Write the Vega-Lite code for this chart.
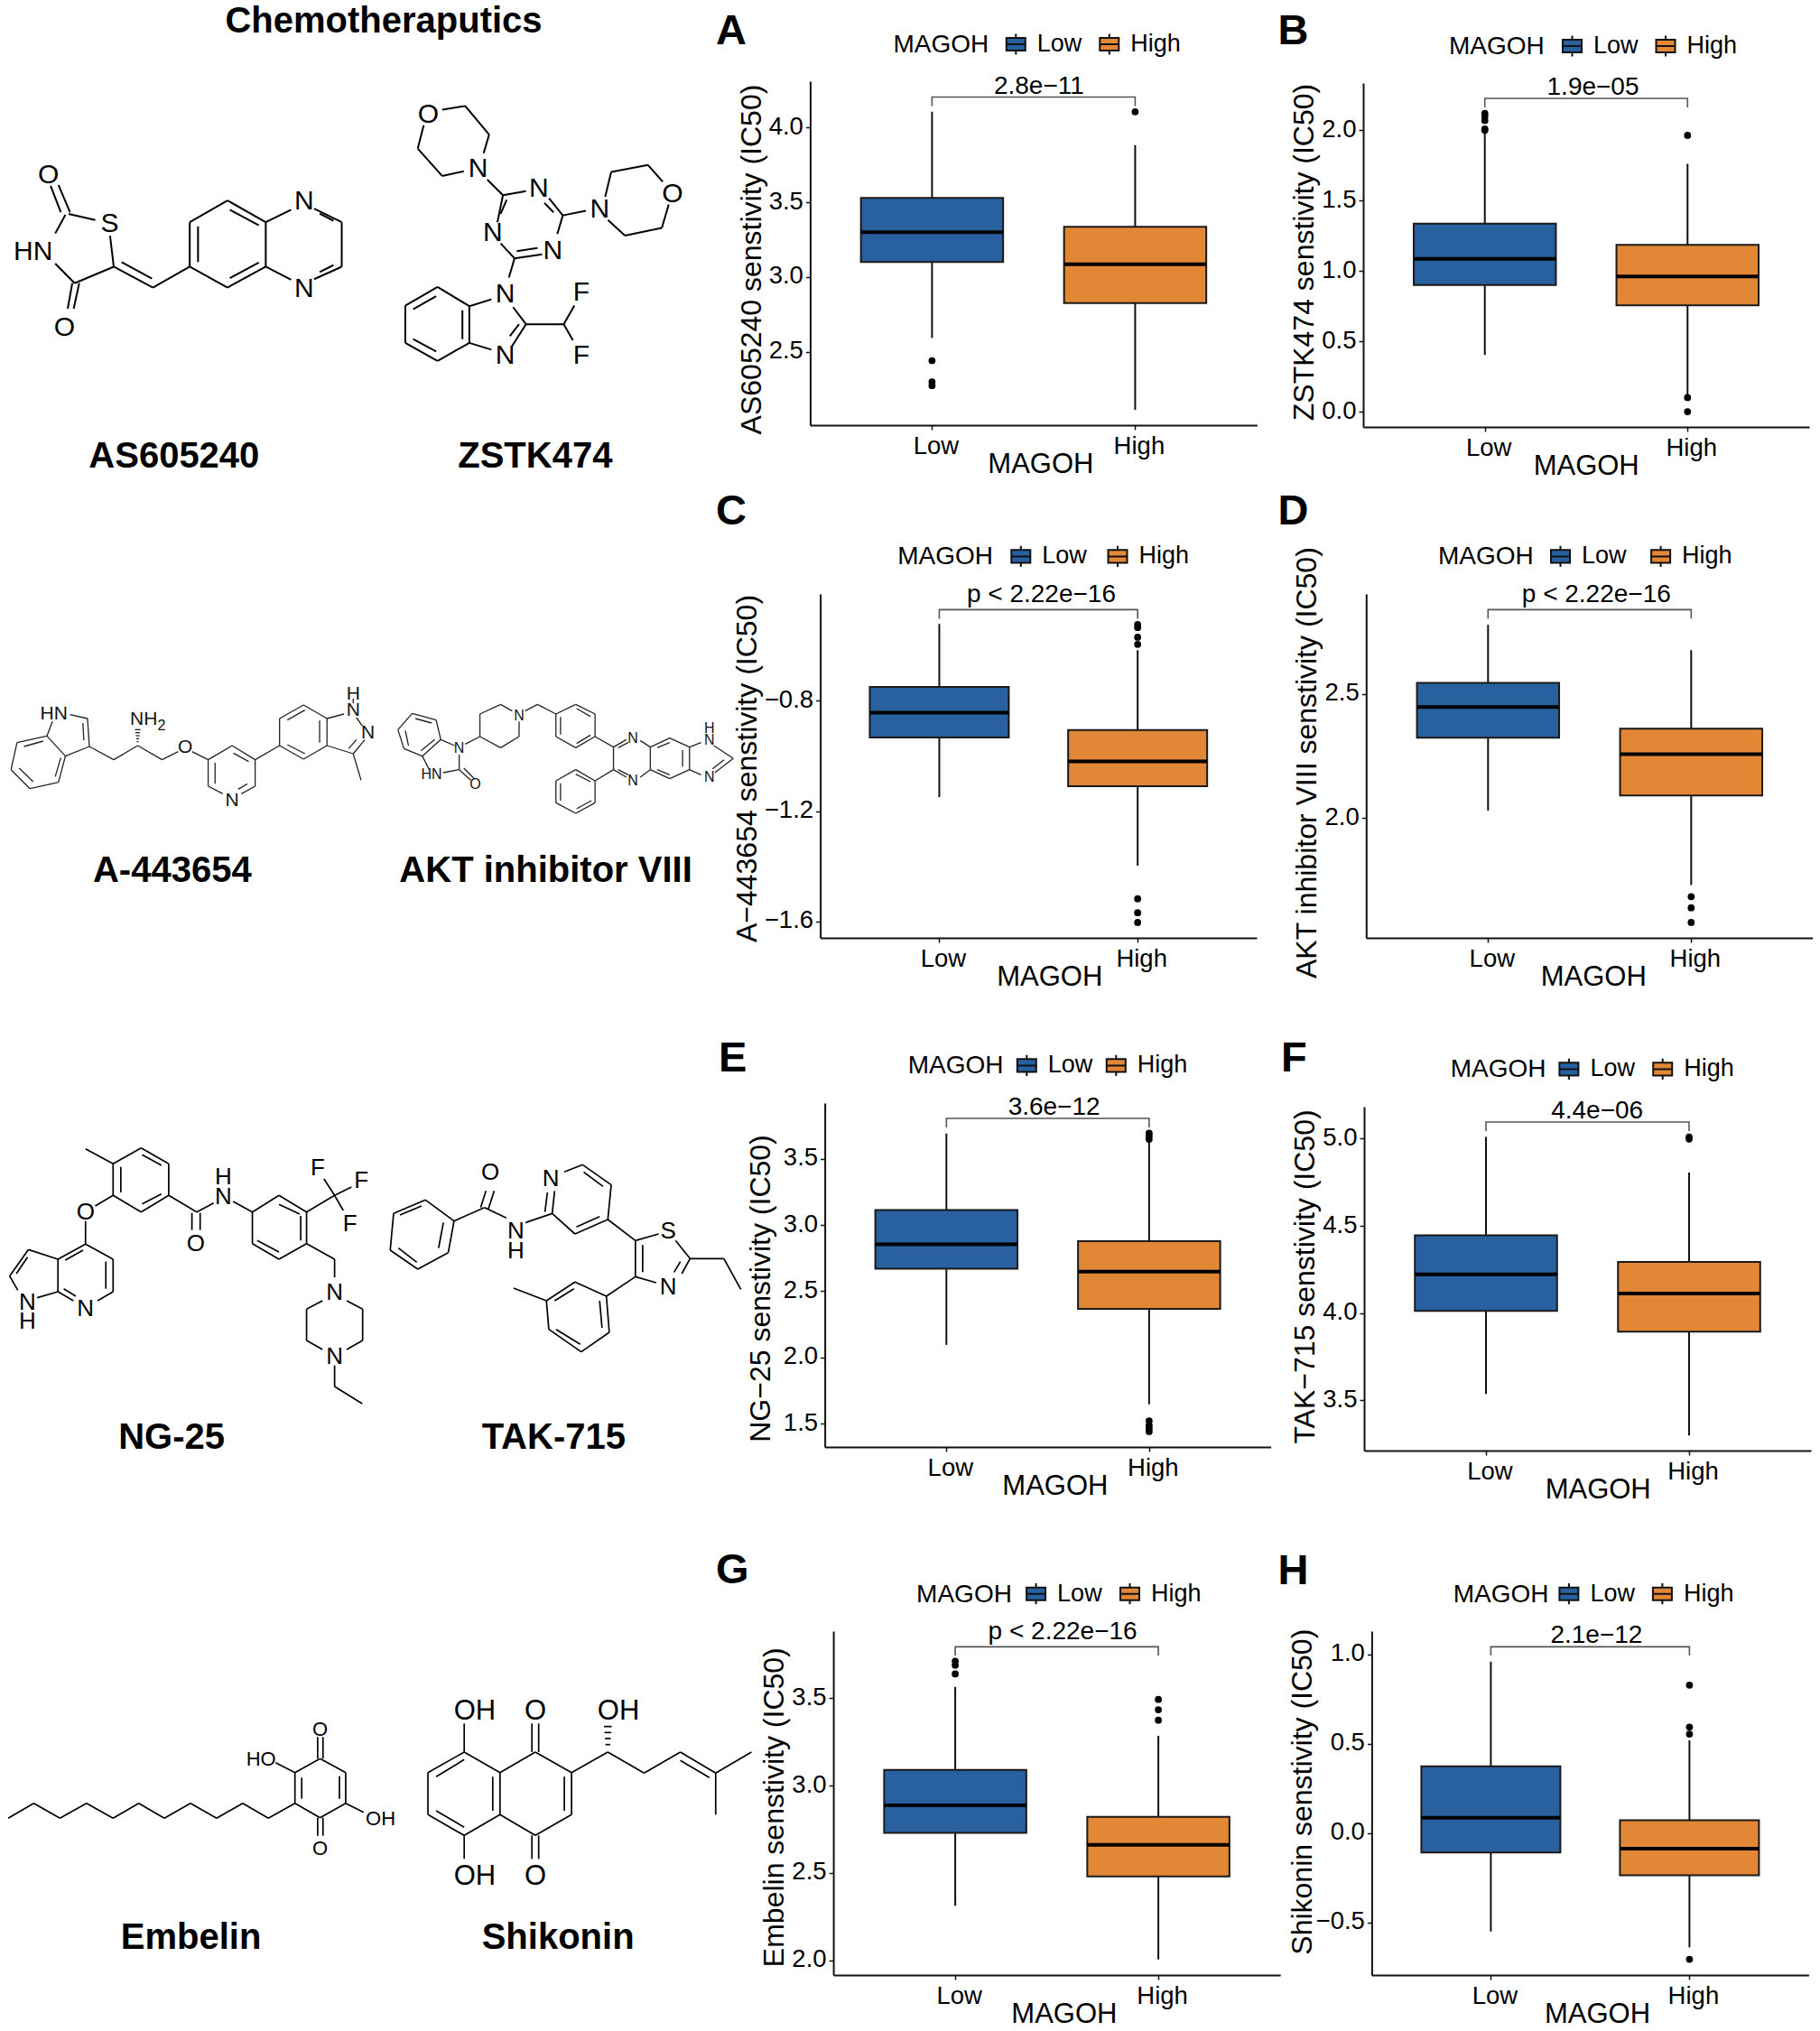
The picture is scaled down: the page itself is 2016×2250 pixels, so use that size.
{"$schema":"https://vega.github.io/schema/vega-lite/v6.json","padding":0,"background":"white","columns":3,"align":"each","bounds":"flush","spacing":0,"resolve":{"scale":{"fill":"independent"},"legend":{"fill":"independent"}},
"config":{"font":"Liberation Sans","view":{"stroke":null},
"axis":{"grid":false,"domainColor":"#111","domainWidth":2,"tickColor":"#111","tickWidth":1.5,"tickSize":5,"labelColor":"#000","labelFontSize":27.5,"labelPadding":4,"titleFontSize":32,"titleFontWeight":"normal","titleColor":"#000"},
"axisX":{"titleFontSize":31,"titleBaseline":"alphabetic","titleAlign":"center","titleY":52.5,"labelOffset":4,"labelAngle":0},
"axisY":{"titleBaseline":"alphabetic","titleAlign":"center","titleAngle":270,"labelOffset":-1,"labelPadding":3},
"legend":{"orient":"none","direction":"horizontal","titleOrient":"left","columns":2,"symbolType":"M-1,-0.67H1V0.67H-1ZM-1,0H1M0,-0.67V-1.1M0,0.67V1.1","symbolSize":441,"symbolStrokeColor":"#111","symbolStrokeWidth":2,"labelFontSize":27,"titleFontSize":28,"titleFontWeight":"normal","labelColor":"#000","titleColor":"#000","labelOffset":10}},
"concat":[
{"width":896,"height":89,"data":{"values":[{"a":1}]},"mark":{"type":"rule","opacity":0},"encoding":{}},
{"width":613,"height":89,"data":{"values":[{"a":1}]},"mark":{"type":"rule","opacity":0},"encoding":{}},
{"width":498,"height":89,"data":{"values":[{"a":1}]},"mark":{"type":"rule","opacity":0},"encoding":{}},

{"width":896,"height":383,"encoding":{"x":{"field":"x","type":"quantitative","axis":null,"scale":{"domain":[0,1756.2],"nice":false,"zero":false}},"y":{"field":"y","type":"quantitative","axis":null,"scale":{"domain":[258.4,1370.5],"reverse":true,"nice":false,"zero":false}}},
"layer":[
{"data":{"values":[{"x":130,"y":680,"x2":108,"y2":595},{"x":150,"y":680,"x2":125,"y2":592},{"x":147,"y":685,"x2":205,"y2":705},{"x":140,"y":688,"x2":118,"y2":748},{"x":237,"y":755,"x2":245,"y2":855},{"x":118,"y":845,"x2":160,"y2":908},{"x":160,"y":908,"x2":245,"y2":855},{"x":155,"y":908,"x2":145,"y2":990},{"x":170,"y":908,"x2":158,"y2":990},{"x":245,"y":855,"x2":330,"y2":922},{"x":262,"y":840,"x2":328,"y2":893},{"x":330,"y":922,"x2":410,"y2":855},{"x":410,"y":855,"x2":410,"y2":712},{"x":410,"y":712,"x2":492,"y2":642},{"x":492,"y":642,"x2":575,"y2":712},{"x":575,"y":712,"x2":575,"y2":855},{"x":575,"y":855,"x2":492,"y2":922},{"x":492,"y":922,"x2":410,"y2":855},{"x":428,"y":725,"x2":428,"y2":840},{"x":497,"y":672,"x2":560,"y2":722},{"x":497,"y":892,"x2":560,"y2":842},{"x":575,"y":712,"x2":630,"y2":672},{"x":575,"y":855,"x2":630,"y2":897},{"x":680,"y":668,"x2":740,"y2":712},{"x":740,"y":712,"x2":740,"y2":855},{"x":740,"y":855,"x2":680,"y2":895},{"x":692,"y":684,"x2":722,"y2":707},{"x":692,"y":872,"x2":722,"y2":850},
{"x":958,"y":350,"x2":1008,"y2":338},{"x":1008,"y":338,"x2":1060,"y2":430},{"x":1060,"y":430,"x2":1048,"y2":490},{"x":1005,"y":548,"x2":958,"y2":563},{"x":958,"y":563,"x2":905,"y2":475},{"x":905,"y":475,"x2":918,"y2":400},{"x":1056,"y":575,"x2":1090,"y2":625},{"x":1090,"y":625,"x2":1140,"y2":612},{"x":1190,"y":635,"x2":1220,"y2":690},{"x":1180,"y":650,"x2":1200,"y2":680},{"x":1220,"y":690,"x2":1208,"y2":750},{"x":1175,"y":815,"x2":1115,"y2":828},{"x":1165,"y":795,"x2":1120,"y2":805},{"x":1115,"y":828,"x2":1085,"y2":780},{"x":1078,"y":712,"x2":1090,"y2":625},{"x":1085,"y":685,"x2":1098,"y2":640},{"x":1220,"y":690,"x2":1270,"y2":675},{"x":1312,"y":630,"x2":1325,"y2":550},{"x":1325,"y":550,"x2":1405,"y2":528},{"x":1405,"y":528,"x2":1437,"y2":582},{"x":1450,"y":655,"x2":1435,"y2":730},{"x":1435,"y":730,"x2":1355,"y2":755},{"x":1355,"y":755,"x2":1318,"y2":705},{"x":1115,"y":828,"x2":1103,"y2":890},{"x":1065,"y":960,"x2":1017,"y2":982},{"x":1017,"y":982,"x2":1017,"y2":1100},{"x":1017,"y":1100,"x2":1065,"y2":1122},{"x":1110,"y":1110,"x2":1140,"y2":1040},{"x":1105,"y":1078,"x2":1125,"y2":1040},{"x":1112,"y":985,"x2":1140,"y2":1040},{"x":1140,"y":1040,"x2":1222,"y2":1040},{"x":1222,"y":1040,"x2":1245,"y2":980},{"x":1222,"y":1040,"x2":1242,"y2":1092},{"x":1017,"y":982,"x2":948,"y2":920},{"x":948,"y":920,"x2":878,"y2":980},{"x":878,"y":980,"x2":878,"y2":1100},{"x":878,"y":1100,"x2":948,"y2":1158},{"x":948,"y":1158,"x2":1017,"y2":1100},{"x":945,"y":950,"x2":895,"y2":992},{"x":895,"y":1088,"x2":945,"y2":1128},{"x":1002,"y":995,"x2":1002,"y2":1088}]},"mark":{"type":"rule","strokeWidth":2,"color":"#000"},"encoding":{"x2":{"field":"x2"},"y2":{"field":"y2"}}},
{"data":{"values":[{"x":103,"y":560,"t":"O"},{"x":236,"y":718,"t":"S"},{"x":70,"y":808,"t":"HN"},{"x":138,"y":1050,"t":"O"},{"x":658,"y":645,"t":"N"},{"x":658,"y":925,"t":"N"},{"x":928,"y":365,"t":"O"},{"x":1036,"y":540,"t":"N"},{"x":1168,"y":605,"t":"N"},{"x":1068,"y":745,"t":"N"},{"x":1198,"y":805,"t":"N"},{"x":1300,"y":670,"t":"N"},{"x":1458,"y":620,"t":"O"},{"x":1095,"y":945,"t":"N"},{"x":1095,"y":1140,"t":"N"},{"x":1260,"y":938,"t":"F"},{"x":1260,"y":1140,"t":"F"}]},"mark":{"type":"text","fontSize":30,"baseline":"middle","align":"center","color":"#000"},"encoding":{"text":{"field":"t"}}},
{"data":{"values":[{"x":831,"y":103,"t":"Chemotheraputics"},{"x":376,"y":1500,"t":"AS605240"},{"x":1160,"y":1500,"t":"ZSTK474"}]},"mark":{"type":"text","fontSize":40,"fontWeight":"bold","baseline":"alphabetic","align":"center","color":"#000"},"encoding":{"text":{"field":"t"}}},
{"data":{"values":[{"x":1552.3,"y":137.9,"t":"A"},{"x":2772.6,"y":138.5,"t":"B"}]},"mark":{"type":"text","fontSize":47,"fontWeight":"bold","baseline":"alphabetic","align":"left","color":"#000"},"encoding":{"text":{"field":"t"}}}
]},

{"width":613,"height":383,"encoding":{"x":{"field":"MAGOH","type":"nominal","scale":{"type":"point","padding":0.6,"domain":["Low","High"],"range":[0.4,495.4]},"axis":{"title":"MAGOH","titleX":255.4,"offset":-2}},"y":{"field":"v","type":"quantitative","scale":{"domain":[2.008,4.31],"nice":false,"zero":false,"range":[381,0]},"axis":{"title":"AS605240 senstivity (IC50)","values":[2.5,3,3.5,4],"format":".1f","titleX":-55,"titleY":197,"offset":-0.4}}},
"layer":[
{"data":{"values":[{"MAGOH":"Low","v":2.592,"v2":4.106},{"MAGOH":"High","v":2.11,"v2":3.883}]},"mark":{"type":"rule","strokeWidth":2,"color":"#111"},"encoding":{"y2":{"field":"v2"}}},
{"data":{"values":[{"MAGOH":"Low","v":3.1,"v2":3.529},{"MAGOH":"High","v":2.825,"v2":3.335}]},"mark":{"type":"bar","size":157.5,"stroke":"#1a1a1a","strokeWidth":2},"encoding":{"y2":{"field":"v2"},"fill":{"field":"MAGOH","type":"nominal","scale":{"domain":["Low","High"],"range":["#2860A0","#E28735"]},"legend":{"title":"MAGOH","legendX":92.4,"legendY":-55,"titlePadding":16.4,"columnPadding":15.5}}}},
{"data":{"values":[{"MAGOH":"Low","v":3.3},{"MAGOH":"High","v":3.085}]},"mark":{"type":"tick","size":157.5,"thickness":4,"color":"#000","opacity":1}},
{"data":{"values":[{"MAGOH":"Low","v":2.44},{"MAGOH":"Low","v":2.298},{"MAGOH":"Low","v":2.273},{"MAGOH":"High","v":4.106}]},"mark":{"type":"point","filled":true,"size":60,"color":"#000","opacity":1}},
{"data":{"values":[{"MAGOH":"Low","v":4.144,"i":1},{"MAGOH":"Low","v":4.204,"i":2},{"MAGOH":"High","v":4.204,"i":3},{"MAGOH":"High","v":4.144,"i":4}]},"mark":{"type":"line","strokeWidth":1.6,"color":"#555"},"encoding":{"order":{"field":"i"}}},
{"data":{"values":[{"MAGOH":"Low","v":4.204,"t":"2.8e−11"}]},"mark":{"type":"text","fontSize":28,"baseline":"alphabetic","align":"center","color":"#000","dx":118.5,"dy":-4},"encoding":{"text":{"field":"t"}}}
]},

{"width":498,"height":383,"encoding":{"x":{"field":"MAGOH","type":"nominal","scale":{"type":"point","padding":0.6,"domain":["Low","High"],"range":[0,494]},"axis":{"title":"MAGOH","titleX":246.7}},"y":{"field":"v","type":"quantitative","scale":{"domain":[-0.109,2.336],"nice":false,"zero":false,"range":[383,2]},"axis":{"title":"ZSTK474 senstivity (IC50)","values":[0,0.5,1,1.5,2],"format":".1f","titleX":-56,"titleY":189}}},
"layer":[
{"data":{"values":[{"MAGOH":"Low","v":0.403,"v2":1.98},{"MAGOH":"High","v":0.12,"v2":1.762}]},"mark":{"type":"rule","strokeWidth":2,"color":"#111"},"encoding":{"y2":{"field":"v2"}}},
{"data":{"values":[{"MAGOH":"Low","v":0.9,"v2":1.336},{"MAGOH":"High","v":0.756,"v2":1.186}]},"mark":{"type":"bar","size":157.5,"stroke":"#1a1a1a","strokeWidth":2},"encoding":{"y2":{"field":"v2"},"fill":{"field":"MAGOH","type":"nominal","scale":{"domain":["Low","High"],"range":["#2860A0","#E28735"]},"legend":{"title":"MAGOH","legendX":95,"legendY":-53,"titlePadding":17,"columnPadding":15.5}}}},
{"data":{"values":[{"MAGOH":"Low","v":1.086},{"MAGOH":"High","v":0.961}]},"mark":{"type":"tick","size":157.5,"thickness":4,"color":"#000","opacity":1}},
{"data":{"values":[{"MAGOH":"Low","v":2.0},{"MAGOH":"Low","v":2.01},{"MAGOH":"Low","v":2.07},{"MAGOH":"Low","v":2.1},{"MAGOH":"Low","v":2.12},{"MAGOH":"High","v":1.964},{"MAGOH":"High","v":0.1},{"MAGOH":"High","v":0.0}]},"mark":{"type":"point","filled":true,"size":60,"color":"#000","opacity":1}},
{"data":{"values":[{"MAGOH":"Low","v":2.163,"i":1},{"MAGOH":"Low","v":2.227,"i":2},{"MAGOH":"High","v":2.227,"i":3},{"MAGOH":"High","v":2.163,"i":4}]},"mark":{"type":"line","strokeWidth":1.6,"color":"#555"},"encoding":{"order":{"field":"i"}}},
{"data":{"values":[{"MAGOH":"Low","v":2.227,"t":"1.9e−05"}]},"mark":{"type":"text","fontSize":28,"baseline":"alphabetic","align":"center","color":"#000","dx":119.8,"dy":-4},"encoding":{"text":{"field":"t"}}}
]},

{"width":896,"height":185,"data":{"values":[{"a":1}]},"mark":{"type":"rule","opacity":0},"encoding":{}},
{"width":613,"height":185,"data":{"values":[{"a":1}]},"mark":{"type":"rule","opacity":0},"encoding":{}},
{"width":498,"height":185,"data":{"values":[{"a":1}]},"mark":{"type":"rule","opacity":0},"encoding":{}},

{"width":896,"height":381,"encoding":{"x":{"field":"x","type":"quantitative","axis":null,"scale":{"domain":[0,1756.2],"nice":false,"zero":false}},"y":{"field":"y","type":"quantitative","axis":null,"scale":{"domain":[-189,954],"reverse":true,"nice":false,"zero":false}}},
"layer":[
{"data":{"values":[{"x":100,"y":283,"x2":35,"y2":305},{"x":35,"y":305,"x2":22,"y2":395},{"x":22,"y":395,"x2":63,"y2":458},{"x":63,"y":458,"x2":125,"y2":437},{"x":125,"y":437,"x2":140,"y2":350},{"x":140,"y":350,"x2":100,"y2":283},{"x":50,"y":318,"x2":92,"y2":300},{"x":40,"y":390,"x2":70,"y2":435},{"x":118,"y":418,"x2":130,"y2":355},{"x":100,"y":283,"x2":112,"y2":235},{"x":150,"y":212,"x2":188,"y2":225},{"x":188,"y":225,"x2":192,"y2":318},{"x":178,"y":240,"x2":180,"y2":298},{"x":192,"y":318,"x2":140,"y2":350},{"x":192,"y":318,"x2":245,"y2":362},{"x":245,"y":362,"x2":297,"y2":315},{"x":297,"y":315,"x2":350,"y2":362},{"x":350,"y":362,"x2":385,"y2":335},{"x":415,"y":335,"x2":450,"y2":362},{"x":291,"y":262,"x2":303,"y2":262},{"x":292,"y":272,"x2":302,"y2":272},{"x":293,"y":282,"x2":301,"y2":282},{"x":294,"y":292,"x2":300,"y2":292},{"x":295,"y":302,"x2":299,"y2":302},{"x":450,"y":362,"x2":502,"y2":315},{"x":502,"y":315,"x2":552,"y2":362},{"x":552,"y":362,"x2":552,"y2":450},{"x":552,"y":450,"x2":522,"y2":475},{"x":482,"y":475,"x2":450,"y2":450},{"x":450,"y":450,"x2":450,"y2":362},{"x":505,"y":340,"x2":538,"y2":368},{"x":465,"y":372,"x2":465,"y2":442},{"x":535,"y":442,"x2":515,"y2":460},{"x":552,"y":362,"x2":605,"y2":315},{"x":605,"y":315,"x2":605,"y2":225},{"x":605,"y":225,"x2":657,"y2":180},{"x":657,"y":180,"x2":708,"y2":225},{"x":708,"y":225,"x2":708,"y2":315},{"x":708,"y":315,"x2":657,"y2":360},{"x":657,"y":360,"x2":605,"y2":315},{"x":622,"y":230,"x2":660,"y2":197},{"x":622,"y":312,"x2":660,"y2":342},{"x":692,"y":232,"x2":692,"y2":305},{"x":708,"y":225,"x2":745,"y2":210},{"x":765,"y":158,"x2":765,"y2":175},{"x":772,"y":222,"x2":785,"y2":250},{"x":790,"y":296,"x2":765,"y2":342},{"x":772,"y":295,"x2":755,"y2":325},{"x":765,"y":342,"x2":708,"y2":315},{"x":765,"y":342,"x2":782,"y2":430},
{"x":893,"y":208,"x2":945,"y2":230},{"x":945,"y":230,"x2":955,"y2":295},{"x":955,"y":295,"x2":915,"y2":350},{"x":915,"y":350,"x2":875,"y2":325},{"x":875,"y":325,"x2":862,"y2":262},{"x":862,"y":262,"x2":893,"y2":208},{"x":900,"y":225,"x2":935,"y2":240},{"x":942,"y":295,"x2":912,"y2":332},{"x":878,"y":265,"x2":885,"y2":315},{"x":955,"y":295,"x2":985,"y2":315},{"x":995,"y":345,"x2":995,"y2":395},{"x":960,"y":405,"x2":995,"y2":395},{"x":930,"y":395,"x2":915,"y2":350},{"x":995,"y":395,"x2":1020,"y2":430},{"x":1005,"y":390,"x2":1028,"y2":425},{"x":1008,"y":310,"x2":1040,"y2":285},{"x":1040,"y":285,"x2":1040,"y2":210},{"x":1040,"y":210,"x2":1085,"y2":178},{"x":1085,"y":178,"x2":1110,"y2":200},{"x":1125,"y":235,"x2":1125,"y2":285},{"x":1125,"y":285,"x2":1085,"y2":322},{"x":1085,"y":322,"x2":1040,"y2":285},{"x":1138,"y":200,"x2":1165,"y2":178},{"x":1165,"y":178,"x2":1205,"y2":210},{"x":1205,"y":210,"x2":1248,"y2":178},{"x":1248,"y":178,"x2":1290,"y2":210},{"x":1290,"y":210,"x2":1290,"y2":285},{"x":1290,"y":285,"x2":1248,"y2":322},{"x":1248,"y":322,"x2":1205,"y2":285},{"x":1205,"y":285,"x2":1205,"y2":210},{"x":1250,"y":192,"x2":1280,"y2":218},{"x":1215,"y":220,"x2":1215,"y2":278},{"x":1250,"y":308,"x2":1280,"y2":280},{"x":1290,"y":285,"x2":1330,"y2":320},{"x":1330,"y":320,"x2":1358,"y2":295},{"x":1388,"y":298,"x2":1410,"y2":320},{"x":1410,"y":320,"x2":1410,"y2":395},{"x":1410,"y":395,"x2":1388,"y2":420},{"x":1358,"y":420,"x2":1330,"y2":395},{"x":1330,"y":395,"x2":1330,"y2":320},{"x":1340,"y":322,"x2":1362,"y2":305},{"x":1340,"y":395,"x2":1362,"y2":412},{"x":1410,"y":320,"x2":1452,"y2":290},{"x":1452,"y":290,"x2":1495,"y2":320},{"x":1495,"y":320,"x2":1495,"y2":395},{"x":1495,"y":395,"x2":1452,"y2":425},{"x":1452,"y":425,"x2":1410,"y2":395},{"x":1425,"y":322,"x2":1452,"y2":305},{"x":1480,"y":330,"x2":1480,"y2":385},{"x":1425,"y":395,"x2":1452,"y2":412},{"x":1495,"y":320,"x2":1520,"y2":305},{"x":1548,"y":315,"x2":1590,"y2":358},{"x":1590,"y":358,"x2":1550,"y2":405},{"x":1570,"y":362,"x2":1545,"y2":392},{"x":1520,"y":412,"x2":1495,"y2":395},{"x":1330,"y":395,"x2":1290,"y2":432},{"x":1290,"y":432,"x2":1248,"y2":395},{"x":1248,"y":395,"x2":1205,"y2":432},{"x":1205,"y":432,"x2":1205,"y2":505},{"x":1205,"y":505,"x2":1248,"y2":540},{"x":1248,"y":540,"x2":1290,"y2":505},{"x":1290,"y":505,"x2":1290,"y2":432},{"x":1215,"y":440,"x2":1215,"y2":498},{"x":1248,"y":410,"x2":1280,"y2":435},{"x":1250,"y":525,"x2":1282,"y2":498}]},"mark":{"type":"rule","strokeWidth":1.3,"color":"#222"},"encoding":{"x2":{"field":"x2"},"y2":{"field":"y2"}}},
{"data":{"values":[{"x":115,"y":210,"t":"HN"},{"x":310,"y":228,"t":"NH"},{"x":400,"y":320,"t":"O"},{"x":502,"y":498,"t":"N"},{"x":765,"y":143,"t":"H"},{"x":765,"y":198,"t":"N"},{"x":797,"y":272,"t":"N"}]},"mark":{"type":"text","fontSize":21,"baseline":"middle","align":"center","color":"#111"},"encoding":{"text":{"field":"t"}}},
{"data":{"values":[{"x":349,"y":248,"t":"2"},{"x":935,"y":412,"t":"HN"},{"x":1030,"y":445,"t":"O"},{"x":995,"y":325,"t":"N"},{"x":1125,"y":215,"t":"N"},{"x":1372,"y":290,"t":"N"},{"x":1372,"y":432,"t":"N"},{"x":1538,"y":298,"t":"N"},{"x":1538,"y":258,"t":"H"},{"x":1538,"y":420,"t":"N"}]},"mark":{"type":"text","fontSize":16,"baseline":"middle","align":"center","color":"#111"},"encoding":{"text":{"field":"t"}}},
{"data":{"values":[{"x":372,"y":768,"t":"A-443654"},{"x":1183,"y":768,"t":"AKT inhibitor VIII"}]},"mark":{"type":"text","fontSize":40,"fontWeight":"bold","baseline":"alphabetic","align":"center","color":"#000"},"encoding":{"text":{"field":"t"}}},
{"data":{"values":[{"x":1552.3,"y":-420,"t":"C"},{"x":2772.6,"y":-420,"t":"D"}]},"mark":{"type":"text","fontSize":47,"fontWeight":"bold","baseline":"alphabetic","align":"left","color":"#000"},"encoding":{"text":{"field":"t"}}}
]},

{"width":613,"height":381,"encoding":{"x":{"field":"MAGOH","type":"nominal","scale":{"type":"point","padding":0.6,"domain":["Low","High"],"range":[11.6,495]},"axis":{"title":"MAGOH","titleX":265.3}},"y":{"field":"v","type":"quantitative","scale":{"domain":[-1.66,-0.412],"nice":false,"zero":false,"range":[381,0]},"axis":{"title":"A−443654 senstivity (IC50)","values":[-1.6,-1.2,-0.8],"format":".1f","titleX":-71.2,"titleY":193,"offset":-11.6}}},
"layer":[
{"data":{"values":[{"MAGOH":"Low","v":-1.149,"v2":-0.521},{"MAGOH":"High","v":-1.398,"v2":-0.616}]},"mark":{"type":"rule","strokeWidth":2,"color":"#111"},"encoding":{"y2":{"field":"v2"}}},
{"data":{"values":[{"MAGOH":"Low","v":-0.933,"v2":-0.749},{"MAGOH":"High","v":-1.11,"v2":-0.906}]},"mark":{"type":"bar","size":154,"stroke":"#1a1a1a","strokeWidth":2},"encoding":{"y2":{"field":"v2"},"fill":{"field":"MAGOH","type":"nominal","scale":{"domain":["Low","High"],"range":["#2860A0","#E28735"]},"legend":{"title":"MAGOH","legendX":97.3,"legendY":-55.6,"titlePadding":17,"columnPadding":19.2}}}},
{"data":{"values":[{"MAGOH":"Low","v":-0.843},{"MAGOH":"High","v":-1.02}]},"mark":{"type":"tick","size":154,"thickness":4,"color":"#000","opacity":1}},
{"data":{"values":[{"MAGOH":"High","v":-0.523},{"MAGOH":"High","v":-0.534},{"MAGOH":"High","v":-0.569},{"MAGOH":"High","v":-0.595},{"MAGOH":"High","v":-1.518},{"MAGOH":"High","v":-1.569},{"MAGOH":"High","v":-1.604}]},"mark":{"type":"point","filled":true,"size":60,"color":"#000","opacity":1}},
{"data":{"values":[{"MAGOH":"Low","v":-0.502,"i":1},{"MAGOH":"Low","v":-0.469,"i":2},{"MAGOH":"High","v":-0.469,"i":3},{"MAGOH":"High","v":-0.502,"i":4}]},"mark":{"type":"line","strokeWidth":1.6,"color":"#555"},"encoding":{"order":{"field":"i"}}},
{"data":{"values":[{"MAGOH":"Low","v":-0.469,"t":"p < 2.22e−16"}]},"mark":{"type":"text","fontSize":28,"baseline":"alphabetic","align":"center","color":"#000","dx":113,"dy":-8},"encoding":{"text":{"field":"t"}}}
]},

{"width":498,"height":381,"encoding":{"x":{"field":"MAGOH","type":"nominal","scale":{"type":"point","padding":0.6,"domain":["Low","High"],"range":[3.3,498.3]},"axis":{"title":"MAGOH","titleX":254.8}},"y":{"field":"v","type":"quantitative","scale":{"domain":[1.519,2.902],"nice":false,"zero":false,"range":[381,0]},"axis":{"title":"AKT inhibitor VIII senstivity (IC50)","values":[2,2.5],"format":".1f","titleX":-55.5,"titleY":186.6,"offset":-3.3}}},
"layer":[
{"data":{"values":[{"MAGOH":"Low","v":2.031,"v2":2.778},{"MAGOH":"High","v":1.731,"v2":2.676}]},"mark":{"type":"rule","strokeWidth":2,"color":"#111"},"encoding":{"y2":{"field":"v2"}}},
{"data":{"values":[{"MAGOH":"Low","v":2.324,"v2":2.544},{"MAGOH":"High","v":2.092,"v2":2.36}]},"mark":{"type":"bar","size":157.5,"stroke":"#1a1a1a","strokeWidth":2},"encoding":{"y2":{"field":"v2"},"fill":{"field":"MAGOH","type":"nominal","scale":{"domain":["Low","High"],"range":["#2860A0","#E28735"]},"legend":{"title":"MAGOH","legendX":83,"legendY":-55.6,"titlePadding":16,"columnPadding":23.1}}}},
{"data":{"values":[{"MAGOH":"Low","v":2.447},{"MAGOH":"High","v":2.258}]},"mark":{"type":"tick","size":157.5,"thickness":4,"color":"#000","opacity":1}},
{"data":{"values":[{"MAGOH":"High","v":1.685},{"MAGOH":"High","v":1.64},{"MAGOH":"High","v":1.581}]},"mark":{"type":"point","filled":true,"size":60,"color":"#000","opacity":1}},
{"data":{"values":[{"MAGOH":"Low","v":2.803,"i":1},{"MAGOH":"Low","v":2.839,"i":2},{"MAGOH":"High","v":2.839,"i":3},{"MAGOH":"High","v":2.803,"i":4}]},"mark":{"type":"line","strokeWidth":1.6,"color":"#555"},"encoding":{"order":{"field":"i"}}},
{"data":{"values":[{"MAGOH":"Low","v":2.839,"t":"p < 2.22e−16"}]},"mark":{"type":"text","fontSize":28,"baseline":"alphabetic","align":"center","color":"#000","dx":120,"dy":-8},"encoding":{"text":{"field":"t"}}}
]},

{"width":896,"height":183,"data":{"values":[{"a":1}]},"mark":{"type":"rule","opacity":0},"encoding":{}},
{"width":613,"height":183,"data":{"values":[{"a":1}]},"mark":{"type":"rule","opacity":0},"encoding":{}},
{"width":498,"height":183,"data":{"values":[{"a":1}]},"mark":{"type":"rule","opacity":0},"encoding":{}},

{"width":896,"height":385,"encoding":{"x":{"field":"x","type":"quantitative","axis":null,"scale":{"domain":[0,1672.6],"nice":false,"zero":false}},"y":{"field":"y","type":"quantitative","axis":null,"scale":{"domain":[-57,1098],"reverse":true,"nice":false,"zero":false}}},
"layer":[
{"data":{"values":[{"x":175,"y":95,"x2":232,"y2":145},{"x":232,"y":145,"x2":290,"y2":92},{"x":290,"y":92,"x2":347,"y2":145},{"x":347,"y":145,"x2":347,"y2":250},{"x":347,"y":250,"x2":290,"y2":305},{"x":290,"y":305,"x2":232,"y2":250},{"x":232,"y":250,"x2":232,"y2":145},{"x":292,"y":115,"x2":332,"y2":150},{"x":248,"y":155,"x2":248,"y2":240},{"x":292,"y":278,"x2":332,"y2":245},{"x":232,"y":250,"x2":195,"y2":285},{"x":175,"y":335,"x2":175,"y2":412},{"x":175,"y":412,"x2":232,"y2":462},{"x":232,"y":462,"x2":232,"y2":570},{"x":232,"y":570,"x2":200,"y2":600},{"x":150,"y":600,"x2":118,"y2":570},{"x":118,"y":570,"x2":118,"y2":462},{"x":118,"y":462,"x2":175,"y2":412},{"x":217,"y":470,"x2":217,"y2":560},{"x":133,"y":465,"x2":170,"y2":432},{"x":130,"y":560,"x2":155,"y2":585},{"x":118,"y":462,"x2":57,"y2":430},{"x":57,"y":430,"x2":18,"y2":518},{"x":18,"y":518,"x2":35,"y2":565},{"x":75,"y":590,"x2":118,"y2":570},{"x":55,"y":455,"x2":32,"y2":510},{"x":347,"y":250,"x2":405,"y2":305},{"x":405,"y":305,"x2":440,"y2":275},{"x":395,"y":308,"x2":395,"y2":365},{"x":412,"y":308,"x2":412,"y2":365},{"x":480,"y":270,"x2":520,"y2":305},{"x":520,"y":305,"x2":575,"y2":250},{"x":575,"y":250,"x2":632,"y2":305},{"x":632,"y":305,"x2":632,"y2":410},{"x":632,"y":410,"x2":575,"y2":462},{"x":575,"y":462,"x2":520,"y2":410},{"x":520,"y":410,"x2":520,"y2":305},{"x":575,"y":280,"x2":618,"y2":312},{"x":620,"y":318,"x2":620,"y2":400},{"x":530,"y":400,"x2":575,"y2":438},{"x":632,"y":305,"x2":690,"y2":250},{"x":690,"y":250,"x2":668,"y2":195},{"x":690,"y":250,"x2":725,"y2":222},{"x":690,"y":250,"x2":708,"y2":300},{"x":632,"y":410,"x2":690,"y2":462},{"x":690,"y":462,"x2":690,"y2":522},{"x":665,"y":600,"x2":632,"y2":628},{"x":632,"y":628,"x2":632,"y2":732},{"x":632,"y":732,"x2":665,"y2":762},{"x":715,"y":762,"x2":748,"y2":732},{"x":748,"y":732,"x2":748,"y2":628},{"x":748,"y":628,"x2":715,"y2":600},{"x":690,"y":815,"x2":690,"y2":885},{"x":690,"y":885,"x2":747,"y2":942},
{"x":878,"y":265,"x2":937,"y2":335},{"x":937,"y":335,"x2":925,"y2":440},{"x":925,"y":440,"x2":862,"y2":495},{"x":862,"y":495,"x2":805,"y2":432},{"x":805,"y":432,"x2":812,"y2":310},{"x":812,"y":310,"x2":878,"y2":265},{"x":870,"y":285,"x2":825,"y2":315},{"x":915,"y":340,"x2":905,"y2":425},{"x":822,"y":425,"x2":860,"y2":472},{"x":937,"y":335,"x2":1000,"y2":290},{"x":992,"y":290,"x2":1003,"y2":235},{"x":1008,"y":295,"x2":1020,"y2":235},{"x":1000,"y":290,"x2":1045,"y2":325},{"x":1085,"y":340,"x2":1140,"y2":310},{"x":1140,"y":310,"x2":1145,"y2":235},{"x":1125,"y":305,"x2":1130,"y2":240},{"x":1165,"y":172,"x2":1203,"y2":148},{"x":1203,"y":148,"x2":1262,"y2":215},{"x":1205,"y":172,"x2":1245,"y2":220},{"x":1262,"y":215,"x2":1255,"y2":330},{"x":1255,"y":330,"x2":1187,"y2":378},{"x":1238,"y":320,"x2":1190,"y2":355},{"x":1187,"y":378,"x2":1140,"y2":310},{"x":1255,"y":330,"x2":1312,"y2":400},{"x":1312,"y":400,"x2":1360,"y2":378},{"x":1395,"y":400,"x2":1425,"y2":460},{"x":1425,"y":460,"x2":1408,"y2":510},{"x":1405,"y":470,"x2":1392,"y2":505},{"x":1355,"y":540,"x2":1312,"y2":520},{"x":1312,"y":520,"x2":1312,"y2":400},{"x":1327,"y":505,"x2":1327,"y2":415},{"x":1425,"y":460,"x2":1495,"y2":460},{"x":1495,"y":460,"x2":1530,"y2":562},{"x":1312,"y":520,"x2":1252,"y2":585},{"x":1252,"y":585,"x2":1187,"y2":538},{"x":1187,"y":538,"x2":1128,"y2":600},{"x":1128,"y":600,"x2":1133,"y2":695},{"x":1133,"y":695,"x2":1200,"y2":770},{"x":1200,"y":770,"x2":1258,"y2":705},{"x":1258,"y":705,"x2":1252,"y2":585},{"x":1185,"y":560,"x2":1145,"y2":600},{"x":1238,"y":600,"x2":1243,"y2":690},{"x":1148,"y":695,"x2":1198,"y2":745},{"x":1128,"y":600,"x2":1060,"y2":558}]},"mark":{"type":"rule","strokeWidth":1.7,"color":"#000"},"encoding":{"x2":{"field":"x2"},"y2":{"field":"y2"}}},
{"data":{"values":[{"x":175,"y":305,"t":"O"},{"x":175,"y":628,"t":"N"},{"x":55,"y":605,"t":"N"},{"x":55,"y":670,"t":"H"},{"x":460,"y":255,"t":"N"},{"x":460,"y":190,"t":"H"},{"x":403,"y":412,"t":"O"},{"x":655,"y":160,"t":"F"},{"x":745,"y":200,"t":"F"},{"x":722,"y":345,"t":"F"},{"x":690,"y":573,"t":"N"},{"x":690,"y":785,"t":"N"},{"x":1012,"y":175,"t":"O"},{"x":1065,"y":370,"t":"N"},{"x":1065,"y":435,"t":"H"},{"x":1137,"y":195,"t":"N"},{"x":1380,"y":370,"t":"S"},{"x":1380,"y":555,"t":"N"}]},"mark":{"type":"text","fontSize":26,"baseline":"middle","align":"center","color":"#000"},"encoding":{"text":{"field":"t"}}},
{"data":{"values":[{"x":353,"y":1092,"t":"NG-25"},{"x":1143,"y":1092,"t":"TAK-715"}]},"mark":{"type":"text","fontSize":40,"fontWeight":"bold","baseline":"alphabetic","align":"center","color":"#000"},"encoding":{"text":{"field":"t"}}},
{"data":{"values":[{"x":1484,"y":-162,"t":"E"},{"x":2647,"y":-162,"t":"F"}]},"mark":{"type":"text","fontSize":47,"fontWeight":"bold","baseline":"alphabetic","align":"left","color":"#000"},"encoding":{"text":{"field":"t"}}}
]},

{"width":613,"height":385,"encoding":{"x":{"field":"MAGOH","type":"nominal","scale":{"type":"point","padding":0.6,"domain":["Low","High"],"range":[16.6,510.6]},"axis":{"title":"MAGOH","titleX":271.4,"offset":-4}},"y":{"field":"v","type":"quantitative","scale":{"domain":[1.323,3.921],"nice":false,"zero":false,"range":[381,0]},"axis":{"title":"NG−25 senstivity (IC50)","values":[1.5,2,2.5,3,3.5],"format":".1f","titleX":-61,"titleY":205,"offset":-16.6}}},
"layer":[
{"data":{"values":[{"MAGOH":"Low","v":2.094,"v2":3.691},{"MAGOH":"High","v":1.646,"v2":3.637}]},"mark":{"type":"rule","strokeWidth":2,"color":"#111"},"encoding":{"y2":{"field":"v2"}}},
{"data":{"values":[{"MAGOH":"Low","v":2.67,"v2":3.113},{"MAGOH":"High","v":2.367,"v2":2.877}]},"mark":{"type":"bar","size":157.5,"stroke":"#1a1a1a","strokeWidth":2},"encoding":{"y2":{"field":"v2"},"fill":{"field":"MAGOH","type":"nominal","scale":{"domain":["Low","High"],"range":["#2860A0","#E28735"]},"legend":{"title":"MAGOH","legendX":108.8,"legendY":-55.6,"titlePadding":12,"columnPadding":11}}}},
{"data":{"values":[{"MAGOH":"Low","v":2.854},{"MAGOH":"High","v":2.647}]},"mark":{"type":"tick","size":157.5,"thickness":4,"color":"#000","opacity":1}},
{"data":{"values":[{"MAGOH":"High","v":3.693},{"MAGOH":"High","v":3.671},{"MAGOH":"High","v":3.648},{"MAGOH":"High","v":1.52},{"MAGOH":"High","v":1.486},{"MAGOH":"High","v":1.464},{"MAGOH":"High","v":1.439}]},"mark":{"type":"point","filled":true,"size":60,"color":"#000","opacity":1}},
{"data":{"values":[{"MAGOH":"Low","v":3.737,"i":1},{"MAGOH":"Low","v":3.805,"i":2},{"MAGOH":"High","v":3.805,"i":3},{"MAGOH":"High","v":3.737,"i":4}]},"mark":{"type":"line","strokeWidth":1.6,"color":"#555"},"encoding":{"order":{"field":"i"}}},
{"data":{"values":[{"MAGOH":"Low","v":3.805,"t":"3.6e−12"}]},"mark":{"type":"text","fontSize":28,"baseline":"alphabetic","align":"center","color":"#000","dx":119.3,"dy":-4},"encoding":{"text":{"field":"t"}}}
]},

{"width":498,"height":385,"encoding":{"x":{"field":"MAGOH","type":"nominal","scale":{"type":"point","padding":0.6,"domain":["Low","High"],"range":[1,496]},"axis":{"title":"MAGOH","titleX":259.7}},"y":{"field":"v","type":"quantitative","scale":{"domain":[3.213,5.183],"nice":false,"zero":false,"range":[385,4]},"axis":{"title":"TAK−715 senstivity (IC50)","values":[3.5,4,4.5,5],"format":".1f","titleX":-56,"titleY":192,"offset":-1}}},
"layer":[
{"data":{"values":[{"MAGOH":"Low","v":3.538,"v2":5.01},{"MAGOH":"High","v":3.3,"v2":4.805}]},"mark":{"type":"rule","strokeWidth":2,"color":"#111"},"encoding":{"y2":{"field":"v2"}}},
{"data":{"values":[{"MAGOH":"Low","v":4.013,"v2":4.446},{"MAGOH":"High","v":3.894,"v2":4.294}]},"mark":{"type":"bar","size":157.5,"stroke":"#1a1a1a","strokeWidth":2},"encoding":{"y2":{"field":"v2"},"fill":{"field":"MAGOH","type":"nominal","scale":{"domain":["Low","High"],"range":["#2860A0","#E28735"]},"legend":{"title":"MAGOH","legendX":96.7,"legendY":-51.6,"titlePadding":11.7,"columnPadding":15.8}}}},
{"data":{"values":[{"MAGOH":"Low","v":4.223},{"MAGOH":"High","v":4.113}]},"mark":{"type":"tick","size":157.5,"thickness":4,"color":"#000","opacity":1}},
{"data":{"values":[{"MAGOH":"High","v":5.009},{"MAGOH":"High","v":4.998}]},"mark":{"type":"point","filled":true,"size":60,"color":"#000","opacity":1}},
{"data":{"values":[{"MAGOH":"Low","v":5.043,"i":1},{"MAGOH":"Low","v":5.095,"i":2},{"MAGOH":"High","v":5.095,"i":3},{"MAGOH":"High","v":5.043,"i":4}]},"mark":{"type":"line","strokeWidth":1.6,"color":"#555"},"encoding":{"order":{"field":"i"}}},
{"data":{"values":[{"MAGOH":"Low","v":5.095,"t":"4.4e−06"}]},"mark":{"type":"text","fontSize":28,"baseline":"alphabetic","align":"center","color":"#000","dx":123.2,"dy":-4},"encoding":{"text":{"field":"t"}}}
]},

{"width":896,"height":200,"data":{"values":[{"a":1}]},"mark":{"type":"rule","opacity":0},"encoding":{}},
{"width":613,"height":200,"data":{"values":[{"a":1}]},"mark":{"type":"rule","opacity":0},"encoding":{}},
{"width":498,"height":200,"data":{"values":[{"a":1}]},"mark":{"type":"rule","opacity":0},"encoding":{}},

{"width":896,"height":381,"encoding":{"x":{"field":"x","type":"quantitative","axis":null,"scale":{"domain":[0,1672.6],"nice":false,"zero":false}},"y":{"field":"y","type":"quantitative","axis":null,"scale":{"domain":[-162,981],"reverse":true,"nice":false,"zero":false}}},
"layer":[
{"data":{"values":[{"x":15,"y":460,"x2":68,"y2":410},{"x":68,"y":410,"x2":122,"y2":460},{"x":122,"y":460,"x2":177,"y2":410},{"x":177,"y":410,"x2":232,"y2":460},{"x":232,"y":460,"x2":285,"y2":410},{"x":285,"y":410,"x2":338,"y2":460},{"x":338,"y":460,"x2":392,"y2":410},{"x":392,"y":410,"x2":446,"y2":460},{"x":446,"y":460,"x2":500,"y2":410},{"x":500,"y":410,"x2":553,"y2":460},{"x":553,"y":460,"x2":608,"y2":410},{"x":608,"y":410,"x2":608,"y2":308},{"x":608,"y":308,"x2":660,"y2":262},{"x":660,"y":262,"x2":713,"y2":308},{"x":713,"y":308,"x2":713,"y2":410},{"x":713,"y":410,"x2":660,"y2":458},{"x":660,"y":458,"x2":608,"y2":410},{"x":622,"y":325,"x2":622,"y2":395},{"x":700,"y":320,"x2":700,"y2":395},{"x":655,"y":262,"x2":655,"y2":190},{"x":666,"y":262,"x2":666,"y2":190},{"x":655,"y":458,"x2":655,"y2":518},{"x":666,"y":458,"x2":666,"y2":518},{"x":568,"y":275,"x2":608,"y2":308},{"x":713,"y":410,"x2":750,"y2":440},
{"x":958,"y":240,"x2":1032,"y2":308},{"x":1032,"y":308,"x2":1032,"y2":448},{"x":1032,"y":448,"x2":958,"y2":517},{"x":958,"y":517,"x2":883,"y2":448},{"x":883,"y":448,"x2":883,"y2":308},{"x":883,"y":308,"x2":958,"y2":240},{"x":958,"y":265,"x2":900,"y2":322},{"x":900,"y":435,"x2":958,"y2":490},{"x":1017,"y":322,"x2":1017,"y2":435},{"x":1032,"y":308,"x2":1105,"y2":240},{"x":1105,"y":240,"x2":1180,"y2":308},{"x":1180,"y":308,"x2":1180,"y2":448},{"x":1180,"y":448,"x2":1105,"y2":517},{"x":1105,"y":517,"x2":1032,"y2":448},{"x":1165,"y":322,"x2":1165,"y2":435},{"x":1098,"y":240,"x2":1098,"y2":145},{"x":1112,"y":240,"x2":1112,"y2":145},{"x":1098,"y":517,"x2":1098,"y2":595},{"x":1112,"y":517,"x2":1112,"y2":595},{"x":958,"y":240,"x2":958,"y2":145},{"x":958,"y":517,"x2":958,"y2":595},{"x":1180,"y":308,"x2":1255,"y2":240},{"x":1255,"y":240,"x2":1330,"y2":310},{"x":1330,"y":310,"x2":1405,"y2":240},{"x":1405,"y":240,"x2":1478,"y2":310},{"x":1405,"y":268,"x2":1465,"y2":325},{"x":1478,"y":310,"x2":1552,"y2":240},{"x":1478,"y":310,"x2":1478,"y2":448},{"x":1250,"y":215,"x2":1260,"y2":215},{"x":1249,"y":195,"x2":1261,"y2":195},{"x":1248,"y":175,"x2":1262,"y2":175},{"x":1247,"y":155,"x2":1263,"y2":155}]},"mark":{"type":"rule","strokeWidth":1.7,"color":"#000"},"encoding":{"x2":{"field":"x2"},"y2":{"field":"y2"}}},
{"data":{"values":[{"x":660,"y":165,"t":"O"},{"x":660,"y":560,"t":"O"},{"x":538,"y":265,"t":"HO"},{"x":785,"y":462,"t":"OH"}]},"mark":{"type":"text","fontSize":22,"baseline":"middle","align":"center","color":"#000"},"encoding":{"text":{"field":"t"}}},
{"data":{"values":[{"x":1105,"y":105,"t":"O"},{"x":1105,"y":655,"t":"O"},{"x":980,"y":105,"t":"OH"},{"x":980,"y":655,"t":"OH"},{"x":1277,"y":105,"t":"OH"}]},"mark":{"type":"text","fontSize":31,"baseline":"middle","align":"center","color":"#000"},"encoding":{"text":{"field":"t"}}},
{"data":{"values":[{"x":393,"y":895,"t":"Embelin"},{"x":1152,"y":895,"t":"Shikonin"}]},"mark":{"type":"text","fontSize":40,"fontWeight":"bold","baseline":"alphabetic","align":"center","color":"#000"},"encoding":{"text":{"field":"t"}}},
{"data":{"values":[{"x":1478.4,"y":-321,"t":"G"},{"x":2640.7,"y":-318,"t":"H"}]},"mark":{"type":"text","fontSize":47,"fontWeight":"bold","baseline":"alphabetic","align":"left","color":"#000"},"encoding":{"text":{"field":"t"}}}
]},

{"width":613,"height":381,"encoding":{"x":{"field":"MAGOH","type":"nominal","scale":{"type":"point","padding":0.6,"domain":["Low","High"],"range":[26.1,521.1]},"axis":{"title":"MAGOH","titleX":281.4}},"y":{"field":"v","type":"quantitative","scale":{"domain":[1.916,3.884],"nice":false,"zero":false,"range":[381,0]},"axis":{"title":"Embelin senstivity (IC50)","values":[2,2.5,3,3.5],"format":".1f","titleX":-56,"titleY":194.7,"offset":-26.1}}},
"layer":[
{"data":{"values":[{"MAGOH":"Low","v":2.312,"v2":3.565},{"MAGOH":"High","v":2.005,"v2":3.285}]},"mark":{"type":"rule","strokeWidth":2,"color":"#111"},"encoding":{"y2":{"field":"v2"}}},
{"data":{"values":[{"MAGOH":"Low","v":2.73,"v2":3.09},{"MAGOH":"High","v":2.48,"v2":2.821}]},"mark":{"type":"bar","size":157.5,"stroke":"#1a1a1a","strokeWidth":2},"encoding":{"y2":{"field":"v2"},"fill":{"field":"MAGOH","type":"nominal","scale":{"domain":["Low","High"],"range":["#2860A0","#E28735"]},"legend":{"title":"MAGOH","legendX":118.1,"legendY":-55.3,"titlePadding":13,"columnPadding":15.9}}}},
{"data":{"values":[{"MAGOH":"Low","v":2.887},{"MAGOH":"High","v":2.661}]},"mark":{"type":"tick","size":157.5,"thickness":4,"color":"#000","opacity":1}},
{"data":{"values":[{"MAGOH":"Low","v":3.712},{"MAGOH":"Low","v":3.689},{"MAGOH":"Low","v":3.639},{"MAGOH":"High","v":3.493},{"MAGOH":"High","v":3.434},{"MAGOH":"High","v":3.374}]},"mark":{"type":"point","filled":true,"size":60,"color":"#000","opacity":1}},
{"data":{"values":[{"MAGOH":"Low","v":3.744,"i":1},{"MAGOH":"Low","v":3.794,"i":2},{"MAGOH":"High","v":3.794,"i":3},{"MAGOH":"High","v":3.744,"i":4}]},"mark":{"type":"line","strokeWidth":1.6,"color":"#555"},"encoding":{"order":{"field":"i"}}},
{"data":{"values":[{"MAGOH":"Low","v":3.794,"t":"p < 2.22e−16"}]},"mark":{"type":"text","fontSize":28,"baseline":"alphabetic","align":"center","color":"#000","dx":119,"dy":-8},"encoding":{"text":{"field":"t"}}}
]},

{"width":498,"height":381,"encoding":{"x":{"field":"MAGOH","type":"nominal","scale":{"type":"point","padding":0.6,"domain":["Low","High"],"range":[9.4,493.4]},"axis":{"title":"MAGOH","titleX":259}},"y":{"field":"v","type":"quantitative","scale":{"domain":[-0.795,1.13],"nice":false,"zero":false,"range":[381,0]},"axis":{"title":"Shikonin senstivity (IC50)","values":[-0.5,0,0.5,1],"format":".1f","titleX":-66.5,"titleY":177.7,"offset":-9.4}}},
"layer":[
{"data":{"values":[{"MAGOH":"Low","v":-0.551,"v2":0.96},{"MAGOH":"High","v":-0.64,"v2":0.519}]},"mark":{"type":"rule","strokeWidth":2,"color":"#111"},"encoding":{"y2":{"field":"v2"}}},
{"data":{"values":[{"MAGOH":"Low","v":-0.109,"v2":0.374},{"MAGOH":"High","v":-0.237,"v2":0.071}]},"mark":{"type":"bar","size":154,"stroke":"#1a1a1a","strokeWidth":2},"encoding":{"y2":{"field":"v2"},"fill":{"field":"MAGOH","type":"nominal","scale":{"domain":["Low","High"],"range":["#2860A0","#E28735"]},"legend":{"title":"MAGOH","legendX":99.8,"legendY":-55.3,"titlePadding":8.6,"columnPadding":15.5}}}},
{"data":{"values":[{"MAGOH":"Low","v":0.086},{"MAGOH":"High","v":-0.088}]},"mark":{"type":"tick","size":154,"thickness":4,"color":"#000","opacity":1}},
{"data":{"values":[{"MAGOH":"High","v":0.828},{"MAGOH":"High","v":0.593},{"MAGOH":"High","v":0.554},{"MAGOH":"High","v":-0.707}]},"mark":{"type":"point","filled":true,"size":60,"color":"#000","opacity":1}},
{"data":{"values":[{"MAGOH":"Low","v":0.993,"i":1},{"MAGOH":"Low","v":1.042,"i":2},{"MAGOH":"High","v":1.042,"i":3},{"MAGOH":"High","v":0.993,"i":4}]},"mark":{"type":"line","strokeWidth":1.6,"color":"#555"},"encoding":{"order":{"field":"i"}}},
{"data":{"values":[{"MAGOH":"Low","v":1.042,"t":"2.1e−12"}]},"mark":{"type":"text","fontSize":28,"baseline":"alphabetic","align":"center","color":"#000","dx":117,"dy":-4},"encoding":{"text":{"field":"t"}}}
]}
]}
